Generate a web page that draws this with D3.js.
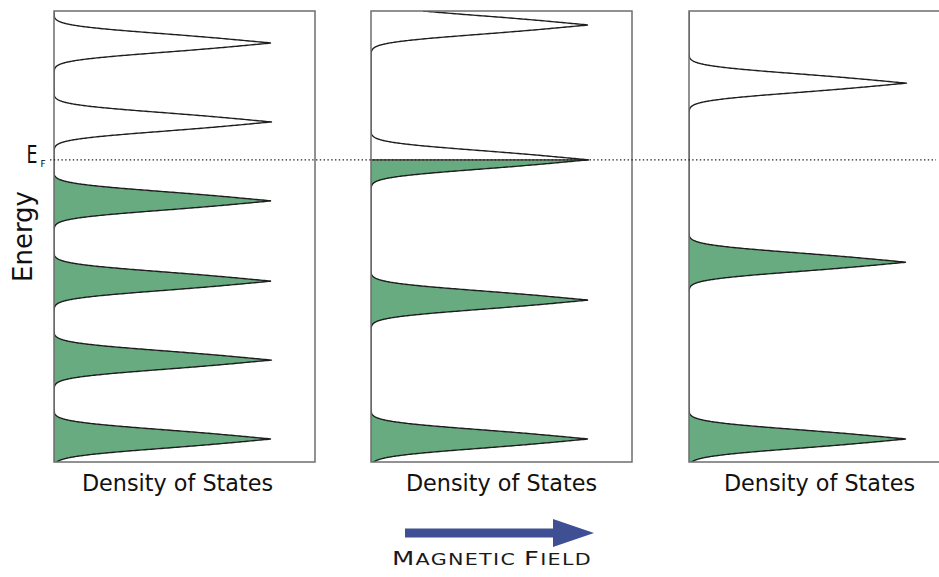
<!DOCTYPE html>
<html>
<head>
<meta charset="utf-8">
<script src="https://cdn.jsdelivr.net/npm/d3@7/dist/d3.min.js"></script>
<style>
  html, body { margin: 0; padding: 0; background: #fff; }
  svg { display: block; }
</style>
</head>
<body>
<svg id="chart" width="939" height="577"></svg>
<script>
// Landau level energies (arbitrary units, 0 = bottom of frame) for three field strengths
const levelsWeak   = [0.51, 2.26, 4.01, 5.79, 7.54, 9.29];
const levelsMedium = [0.51, 3.59, 6.70, 9.69];
const levelsStrong = [0.51, 4.43, 8.40];
const fermiEnergy = 6.70;
const broadening = 0.2;            // width of each broadened level
const peakHeight = 1;              // relative density at each level's centre
const energyDomain = [0, 10];
const densityDomain = [0, 1.2];
const panelTitle = "Density of States";
const energyTitle = "Energy";
const fieldTitle = [["M", "big"], ["AGNETIC", "small"], [" ", "small"], ["F", "big"], ["IELD", "small"]];

const allLevels = [levelsWeak, levelsMedium, levelsStrong];

const svg = d3.select("#chart");
const W = 939, H = 577;
svg.append("rect").attr("width", W).attr("height", H).attr("fill", "#fff");

const panelLeft = [54, 371, 689];
const panelW = 261;
const frameTop = 11, frameBottom = 462;
const fill = "#68ab80";

const y = d3.scaleLinear().domain(energyDomain).range([frameBottom, frameTop]);

// sample energies finely, with E_F inserted exactly
const step = 0.004;
const energies = d3.range(energyDomain[0], energyDomain[1] + step / 2, step);
energies.push(fermiEnergy);
energies.sort((a, b) => a - b);

// sharply peaked level profile with fast-decaying tails
function profile(u) {
  const a = Math.abs(u);
  return Math.exp(-(0.465 * a + 0.191 * a * a * a));
}

function dos(e, levels) {
  let s = 0;
  levels.forEach(c => { s += peakHeight * profile((e - c) / broadening); });
  return s;
}

const defs = svg.append("defs");

allLevels.forEach((levels, p) => {
  const left = panelLeft[p];
  const x = d3.scaleLinear().domain(densityDomain).range([left, left + panelW]);
  const g = svg.append("g");

  defs.append("clipPath").attr("id", "clip" + p)
    .append("rect").attr("x", left).attr("y", frameTop).attr("width", panelW).attr("height", frameBottom - frameTop);

  const pts = energies.map(e => ({ e, v: dos(e, levels) }));
  const gp = g.append("g").attr("clip-path", `url(#clip${p})`);

  // occupied states below the Fermi level
  const filled = pts.filter(d => d.e <= fermiEnergy + 1e-9);
  gp.append("path")
    .datum(filled)
    .attr("fill", fill)
    .attr("d", d3.area().y(d => y(d.e)).x0(x(0)).x1(d => x(d.v)));

  // upper edge of the occupied region
  gp.append("line")
    .attr("x1", x(0)).attr("x2", x(dos(fermiEnergy, levels)))
    .attr("y1", y(fermiEnergy)).attr("y2", y(fermiEnergy))
    .attr("stroke", "#3b2626").attr("stroke-width", 1.3);

  gp.append("path")
    .datum(pts)
    .attr("fill", "none")
    .attr("stroke", "#1e1e1e")
    .attr("stroke-width", 1.4)
    .attr("stroke-linejoin", "round")
    .attr("d", d3.line().y(d => y(d.e)).x(d => x(d.v)));

  // frame
  g.append("rect")
    .attr("x", left).attr("y", frameTop).attr("width", panelW).attr("height", frameBottom - frameTop)
    .attr("fill", "none").attr("stroke", "#6e6e6e").attr("stroke-width", 1.5);

  g.append("text")
    .attr("x", left + panelW / 2 - (p === 0 ? 7 : 0))
    .attr("y", 491)
    .attr("text-anchor", "middle")
    .attr("font-family", "DejaVu Sans, Verdana, sans-serif")
    .attr("font-size", 22.3)
    .attr("fill", "#111")
    .text(panelTitle);
});

// Fermi level
svg.append("line")
  .attr("x1", 50).attr("x2", 936)
  .attr("y1", y(fermiEnergy)).attr("y2", y(fermiEnergy))
  .attr("stroke", "#222").attr("stroke-width", 1.1)
  .attr("stroke-dasharray", "1.4,2.4");

svg.append("text")
  .attr("x", 26.5).attr("y", y(fermiEnergy) + 3.5)
  .attr("font-family", "DejaVu Sans, sans-serif")
  .attr("font-size", 24)
  .attr("textLength", 11).attr("lengthAdjust", "spacingAndGlyphs")
  .attr("fill", "#111")
  .text("E");
svg.append("text")
  .attr("x", 40.5).attr("y", y(fermiEnergy) + 7.5)
  .attr("font-family", "DejaVu Sans, sans-serif")
  .attr("font-size", 9)
  .attr("fill", "#000")
  .text("F");

// energy axis title
svg.append("text")
  .attr("transform", `translate(32,${(frameTop + frameBottom) / 2}) rotate(-90)`)
  .attr("text-anchor", "middle")
  .attr("font-family", "DejaVu Sans, Verdana, sans-serif")
  .attr("font-size", 26)
  .attr("fill", "#111")
  .text(energyTitle);

// field arrow
const arrowY = 533;
svg.append("path")
  .attr("d", `M405,${arrowY - 4.5} L553,${arrowY - 4.5} L553,${arrowY - 14} L594,${arrowY} L553,${arrowY + 14} L553,${arrowY + 4.5} L405,${arrowY + 4.5} Z`)
  .attr("fill", "#3f4f94");

const ft = svg.append("text")
  .attr("x", 392).attr("y", 565)
  .attr("font-family", "DejaVu Sans, sans-serif")
  .attr("fill", "#1a1a1a")
  .attr("letter-spacing", 1);
fieldTitle.forEach(([t, s]) => {
  ft.append("tspan").attr("font-size", s === "big" ? 20 : 16).text(t);
});
ft.attr("textLength", 200).attr("lengthAdjust", "spacingAndGlyphs");
</script>
</body>
</html>
